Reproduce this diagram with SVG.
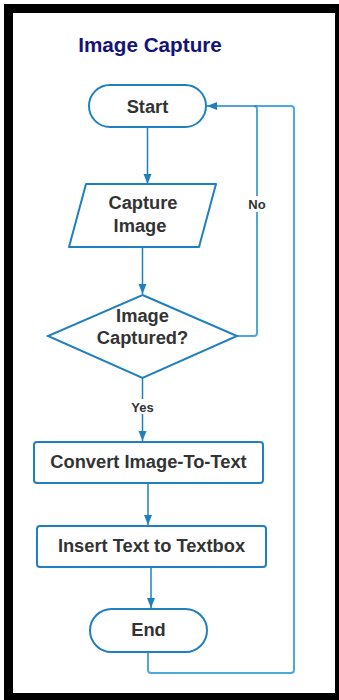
<svg xmlns="http://www.w3.org/2000/svg" width="339" height="700" viewBox="0 0 339 700">
<style>
.node{fill:#fff;stroke:#1f80c0;stroke-width:2}
.t{font-family:"Liberation Sans",Arial,sans-serif;font-weight:bold;font-size:18.3px;fill:#333;text-anchor:middle}
.lbl{font-family:"Liberation Sans",Arial,sans-serif;font-weight:bold;font-size:13px;fill:#333;text-anchor:middle}
.c{fill:none;stroke:#1f80c0;stroke-width:1.5}
.loop{fill:none;stroke:#4ea8dc;stroke-width:2}
</style>
<defs>
<marker id="ah" viewBox="0 0 10 10" refX="10" refY="5" markerWidth="10" markerHeight="10" markerUnits="userSpaceOnUse" orient="auto">
<path d="M0,1 L10,5 L0,9 z" fill="#1f80c0"/>
</marker>
</defs>
<rect x="0" y="0" width="339" height="700" fill="#fff"/>
<rect x="8.5" y="8.5" width="331" height="689" fill="none" stroke="#000" stroke-width="9"/>
<text x="150" y="52" font-family="Liberation Sans,Arial,sans-serif" font-weight="bold" font-size="20.7" fill="#141478" text-anchor="middle">Image Capture</text>
<g id="connectors">
<path class="c" d="M147.5,127 V184" marker-end="url(#ah)"/>
<path class="c" d="M142.5,247 V294" marker-end="url(#ah)"/>
<path class="loop" d="M237,336 H254 Q257,336 257,333 V109 Q257,106 254,106"/>
<path class="loop" d="M148,652 V670 Q148,673 151,673 H291 Q294,673 294,670 V109 Q294,106 291,106 H257"/>
<path class="c" d="M257,106 H207" marker-end="url(#ah)"/>
<rect x="246" y="196" width="22" height="16" fill="#fff"/>
<text class="lbl" x="257" y="209">No</text>
<path class="c" d="M142.5,378 V441" marker-end="url(#ah)"/>
<rect x="127" y="399" width="31" height="15" fill="#fff"/>
<text class="lbl" x="142.5" y="412">Yes</text>
<path class="c" d="M148,483 V525" marker-end="url(#ah)"/>
<path class="c" d="M151,567 V608" marker-end="url(#ah)"/>
</g>
<g id="start">
<rect class="node" x="89" y="85" width="117" height="42" rx="21"/>
<text class="t" x="147.5" y="112.5">Start</text>
</g>
<g id="capture">
<path class="node" d="M86,184 H216 L199,247 H69 Z" stroke-linejoin="round"/>
<text class="t" x="143" y="209">Capture</text>
<text class="t" x="140" y="232">Image</text>
</g>
<g id="decision">
<path class="node" d="M142.5,295 L237,336 L142.5,378 L48,336 Z"/>
<text class="t" x="142.5" y="322">Image</text>
<text class="t" x="142.5" y="343.5">Captured?</text>
</g>
<g id="convert">
<rect class="node" x="34" y="442" width="229" height="41" rx="3"/>
<text class="t" x="148.5" y="468">Convert Image-To-Text</text>
</g>
<g id="insert">
<rect class="node" x="37" y="526" width="229" height="41" rx="3"/>
<text class="t" x="151.5" y="552">Insert Text to Textbox</text>
</g>
<g id="end">
<rect class="node" x="90" y="609" width="117" height="43" rx="21.5"/>
<text class="t" x="148.5" y="636">End</text>
</g>
</svg>
